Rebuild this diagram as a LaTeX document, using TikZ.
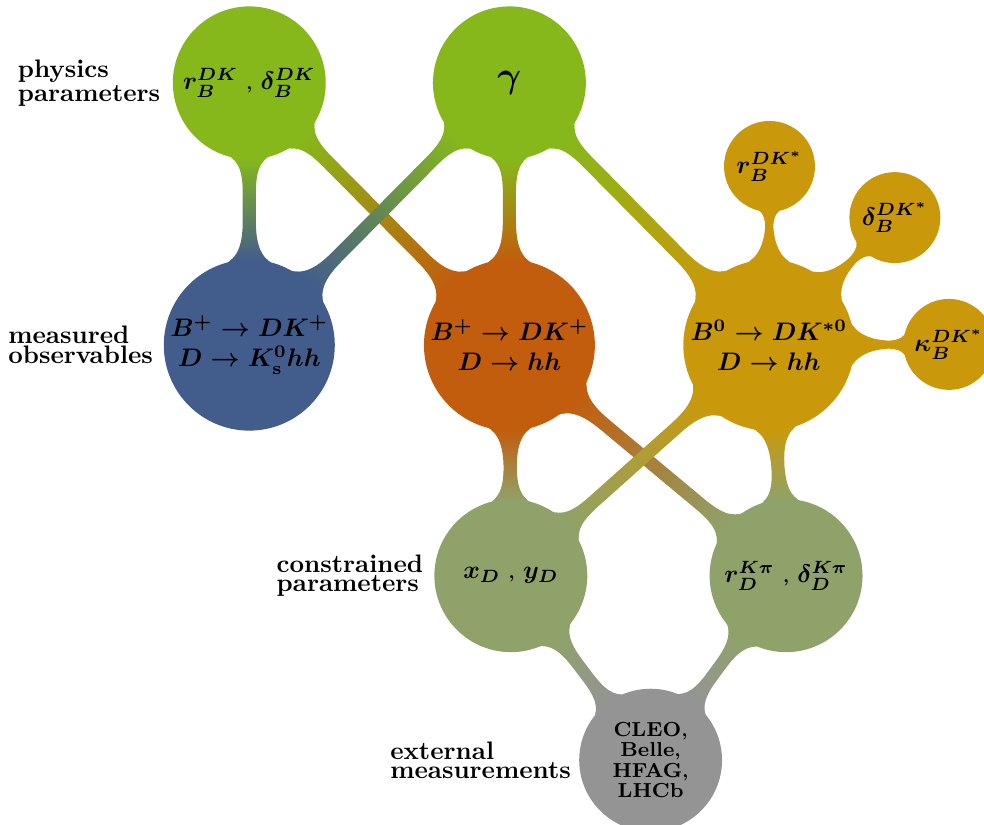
\documentclass[tikz,border=0pt]{standalone}
\usepackage{amsmath}
\usepackage{amssymb}
\usepackage{bm}
\usetikzlibrary{mindmap,positioning}
\pgfdeclarelayer{background}
\pgfsetlayers{background,main}

\definecolor{physgreen}{RGB}{134,184,27}
\definecolor{obsblue}{RGB}{66,92,140}
\definecolor{obsorange}{RGB}{194,93,13}
\definecolor{obsgold}{RGB}{201,153,11}
\definecolor{conolive}{RGB}{143,162,106}
\definecolor{extgrey}{RGB}{148,148,148}

\tikzset{
  bubble/.style={concept, concept color=#1, text=black, inner sep=0pt,
    text width={}, align=center, font=\bfseries\boldmath},
  bigbubble/.style={bubble=#1, minimum size=2.33cm},
  medbubble/.style={bubble=#1, minimum size=2.08cm},
  smallbubble/.style={bubble=#1, minimum size=1.22cm},
  sidelabel/.style={inner sep=0pt, anchor=east, align=left,
    font=\bfseries\linespread{0.5}\selectfont},
  link/.style={line width=5.5pt},
  thinlink/.style={line width=3.5pt}
}

\begin{document}
\begin{tikzpicture}
      \useasboundingbox (0,0) rectangle (13.657,11.45);
      \node[sidelabel] (physlbl) at (2.23,10.30) {physics\\parameters};
      \node[sidelabel] (obslbl) at (2.13,6.66) {measured\\observables};
      \node[sidelabel] (conlbl) at (5.88,3.46) {constrained\\parameters};
      \node[sidelabel] (extlbl) at (7.93,0.90) {external\\measurements};

      \begin{scope}[mindmap]
      \node[medbubble=physgreen] (rbdk) at (3.46,10.30)
        {$r_B^{DK}\;{\scriptstyle,}\;\delta_B^{DK}$};
      \node[medbubble=physgreen] (gamma) at (7.07,10.30) {\Large$\gamma$};
      \node[bigbubble=obsblue] (dkks) at (3.46,6.66)
        {$B^+\to DK^+$\\$D\to K^0_{\mathrm{s}}hh$};
      \node[bigbubble=obsorange] (dkhh) at (7.07,6.66)
        {$B^+\to DK^+$\\$D\to hh$};
      \node[bigbubble=obsgold] (dkst) at (10.67,6.66)
        {$B^0\to DK^{*0}$\\$D\to hh$};
      \node[smallbubble=obsgold] (rbdkst) at (10.68,9.14) {$r_B^{DK^*}$};
      \node[smallbubble=obsgold] (dbdkst) at (12.42,8.43) {$\delta_B^{DK^*}$};
      \node[smallbubble=obsgold] (kbdkst) at (13.17,6.67) {$\kappa_B^{DK^*}$};
      \node[medbubble=conolive] (xdyd) at (7.09,3.46)
        {$x_D\;{\scriptstyle,}\;y_D$};
      \node[medbubble=conolive] (rdkpi) at (10.91,3.46)
        {$r_D^{K\pi}\;{\scriptstyle,}\;\delta_D^{K\pi}$};
      \node[bubble=extgrey, minimum size=1.94cm,
        font=\footnotesize\bfseries\linespread{0.5}\selectfont] (ext) at (9.03,0.90)
        {CLEO{\scriptsize,}\\Belle{\scriptsize,}\\HFAG{\scriptsize,}\\LHCb};

      \begin{pgfonlayer}{background}
        \path[link] (rbdk) to[circle connection bar switch color=from (physgreen) to (obsblue)] (dkks);
        \path[link] (rbdk) to[circle connection bar switch color=from (physgreen) to (obsorange)] (dkhh);
        \path[link] (gamma) to[circle connection bar switch color=from (physgreen) to (obsblue)] (dkks);
        \path[link] (gamma) to[circle connection bar switch color=from (physgreen) to (obsorange)] (dkhh);
        \path[link] (gamma) to[circle connection bar switch color=from (physgreen) to (obsgold)] (dkst);
        \path[thinlink] (dkst) to[circle connection bar switch color=from (obsgold) to (obsgold)] (rbdkst);
        \path[thinlink] (dkst) to[circle connection bar switch color=from (obsgold) to (obsgold)] (dbdkst);
        \path[thinlink] (dkst) to[circle connection bar switch color=from (obsgold) to (obsgold)] (kbdkst);
        \path[link] (dkhh) to[circle connection bar switch color=from (obsorange) to (conolive)] (xdyd);
        \path[link] (dkhh) to[circle connection bar switch color=from (obsorange) to (conolive)] (rdkpi);
        \path[link] (dkst) to[circle connection bar switch color=from (obsgold) to (conolive)] (xdyd);
        \path[link] (dkst) to[circle connection bar switch color=from (obsgold) to (conolive)] (rdkpi);
        \path[link] (xdyd) to[circle connection bar switch color=from (conolive) to (extgrey)] (ext);
        \path[link] (rdkpi) to[circle connection bar switch color=from (conolive) to (extgrey)] (ext);
      \end{pgfonlayer}
      \end{scope}
\end{tikzpicture}
\end{document}
